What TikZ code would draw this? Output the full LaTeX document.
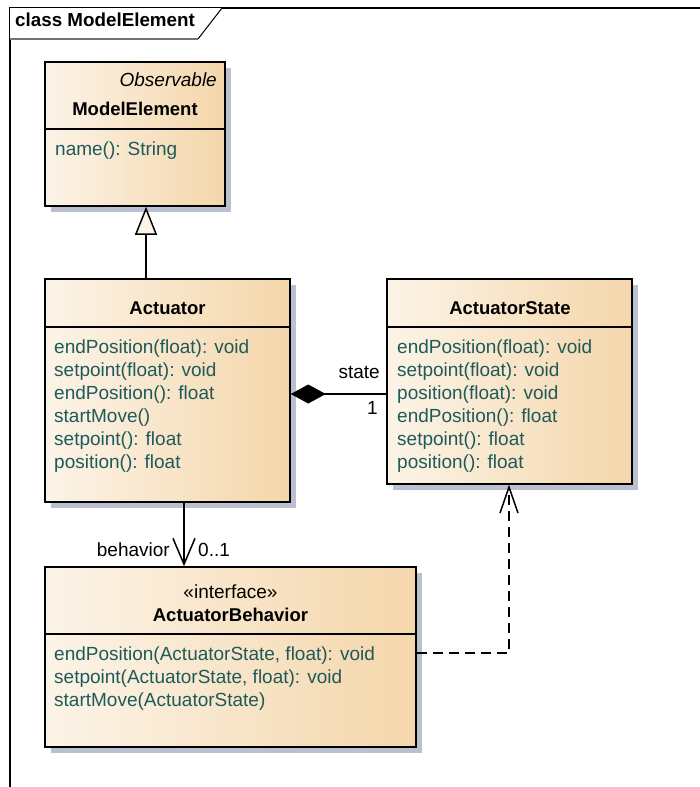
\documentclass[tikz,border=0pt]{standalone}
\usepackage{fontspec}
\setmainfont{Liberation Sans}
\usetikzlibrary{arrows.meta,shadows}
\definecolor{boxleft}{HTML}{FCF4E8}
\definecolor{boxright}{HTML}{F4D6AA}
\definecolor{shadowc}{HTML}{BBC0D0}
\definecolor{optext}{HTML}{1F5A5A}
\newcommand\umlfont{\fontsize{18.5}{22}\selectfont}
\newcommand\umlopfont{\fontsize{19}{22}\selectfont}
% \umlclass{name}{x1}{y1}{x2}{y2}{y of the compartment line}
\newcommand\umlclass[6]{%
  \node[classbox, minimum width={#4-#2}, minimum height={#5-#3}] (#1) at ({(#2+#4)/2},{(#3+#5)/2}) {};
  \draw[line width=1.2pt] (#1.west |- 0,#6) -- (#1.east |- 0,#6);
}
\begin{document}
\begin{tikzpicture}[x=1pt,y=-1pt,
  txt/.style={inner sep=0pt, font=\umlopfont},
  op/.style={txt, anchor=base west, text=optext},
  classname/.style={inner sep=0pt, anchor=base, font=\umlfont\bfseries},
  classbox/.style={draw=black, line width=1.5pt, inner sep=0pt,
    left color=boxleft, right color=boxright,
    drop shadow={shadow xshift=6pt, shadow yshift=-6pt, fill=shadowc, opacity=1}},
  conn/.style={line width=1.5pt}
]
\useasboundingbox (0,0) rectangle (700,787);

% diagram frame with its name tab
\draw[line width=2pt] (10,787) -- (10,8) -- (700,8);
\fill[white] (10,8) -- (222,8) -- (198,39) -- (10,39) -- cycle;
\draw[line width=1pt] (222,8) -- (198,39);
\draw[line width=1.2pt, draw=black!55] (198,39) -- (10,39);
\node[inner sep=0pt, anchor=base west, font=\fontsize{18.8}{22}\selectfont\bfseries] (frametitle) at (15,27) {class ModelElement};

% classes
\umlclass{me}{45}{62}{225}{206}{129}
\umlclass{act}{45}{279}{290}{502}{327}
\umlclass{st}{387}{279}{632}{484}{327}
\umlclass{beh}{45}{567}{416}{747}{634}

% ModelElement
\node[inner sep=0pt, anchor=base east, font=\umlopfont\itshape] (meobs) at (217,86) {Observable};
\node[classname] (metitle) at (135,115) {ModelElement};
\node[op] (meop1) at (55,155) {name(): String};

% Actuator
\node[classname] (acttitle) at (167.5,314) {Actuator};
\node[op] (actop1) at (54,353) {endPosition(float): void};
\node[op] (actop2) at (54,376) {setpoint(float): void};
\node[op] (actop3) at (54,399) {endPosition(): float};
\node[op] (actop4) at (54,422) {startMove()};
\node[op] (actop5) at (54,445) {setpoint(): float};
\node[op] (actop6) at (54,468) {position(): float};

% ActuatorState
\node[classname] (sttitle) at (510,314) {ActuatorState};
\node[op] (stop1) at (397,353) {endPosition(float): void};
\node[op] (stop2) at (397,376) {setpoint(float): void};
\node[op] (stop3) at (397,399) {position(float): void};
\node[op] (stop4) at (397,422) {endPosition(): float};
\node[op] (stop5) at (397,445) {setpoint(): float};
\node[op] (stop6) at (397,468) {position(): float};

% ActuatorBehavior
\node[txt, anchor=base] (behstereo) at (230.5,598) {«interface»};
\node[classname] (behtitle) at (230.5,621) {ActuatorBehavior};
\node[op] (behop1) at (54,660) {endPosition(ActuatorState, float): void};
\node[op] (behop2) at (54,683) {setpoint(ActuatorState, float): void};
\node[op] (behop3) at (54,706) {startMove(ActuatorState)};

% relationships
\coordinate (inhx) at (146,0);
\coordinate (compy) at (0,394);
\coordinate (navx) at (184,0);
\coordinate (depx) at (509,0);
\coordinate (depy) at (0,653);

\draw[conn, -{Triangle[length=28pt, width=22pt, fill=boxleft]}]
  (act.north -| inhx) -- (me.south -| inhx);
\draw[conn, -{Diamond[length=35pt, width=19pt]}]
  (st.west |- compy) -- (act.east |- compy);
\node[txt, anchor=base east] (lstate) at (380,378) {state};
\node[txt, anchor=base east] (lone) at (378,414) {1};

\draw[conn, -{Straight Barb[length=26pt, width=22pt]}]
  (act.south -| navx) -- (beh.north -| navx);
\node[txt, anchor=base east] (lbehavior) at (170,556) {behavior};
\node[txt, anchor=base west] (lmult) at (198,556) {0..1};

\draw[conn, dash pattern=on 10pt off 6pt, -{Straight Barb[length=26pt, width=18pt]}]
  (beh.east |- depy) -| (st.south -| depx);
\end{tikzpicture}
\end{document}
